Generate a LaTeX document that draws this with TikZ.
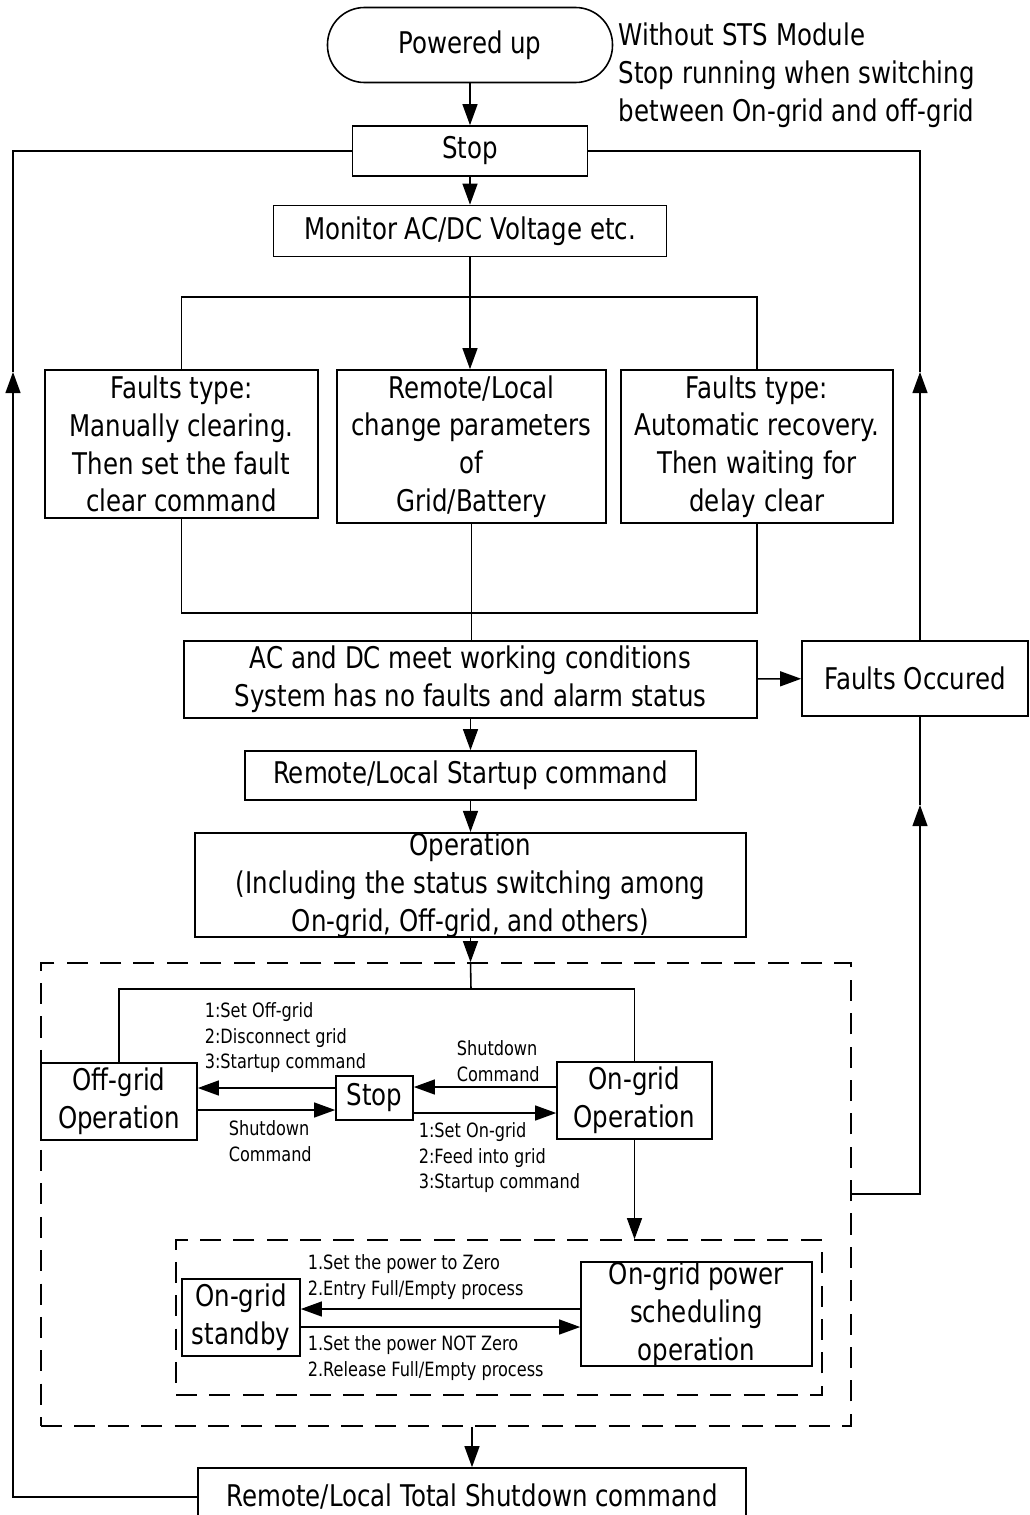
\documentclass[tikz,border=0pt]{standalone}
\usepackage{fontspec}
\setmainfont[FakeStretch=0.82]{DejaVu Sans}
\usetikzlibrary{arrows.meta}
\begin{document}
\begin{tikzpicture}[x=0.02cm,y=-0.02cm, line width=0.9pt,
  box/.style={draw, align=center, inner sep=0pt, font=\fontsize{17}{21.5}\selectfont},
  txt/.style={align=left, inner sep=0pt, anchor=west, font=\fontsize{17}{21.5}\selectfont},
  lbl/.style={align=left, inner sep=0pt, anchor=west, font=\fontsize{11.2}{14.5}\selectfont},
  arr/.style={-{Triangle[length=12pt,width=8.5pt]}},
  dbox/.style={draw, inner sep=0pt, dash pattern=on 12pt off 7pt}]
\def\u{0.02cm}
\useasboundingbox (0,0) rectangle (1029,1515);

% nodes
\node[box, rounded corners=0.74cm, minimum width=285*\u, minimum height=75*\u] (pu) at (470,45) {Powered up};
\node[txt] (note) at (618,75) {Without STS Module\\Stop running when switching\\between On-grid and off-grid};
\node[box, minimum width=235*\u, minimum height=50*\u] (stop) at (470,151) {Stop};
\node[box, minimum width=393*\u, minimum height=51*\u] (mon) at (470,231) {Monitor AC/DC Voltage etc.};
\node[box, minimum width=273*\u, minimum height=148*\u] (fl) at (181.5,444) {Faults type:\\Manually clearing.\\Then set the fault\\clear command};
\node[box, minimum width=269*\u, minimum height=153*\u] (fm) at (471.5,446.5) {Remote/Local\\change parameters\\of\\Grid/Battery};
\node[box, minimum width=272*\u, minimum height=153*\u] (fr) at (757,446.5) {Faults type:\\Automatic recovery.\\Then waiting for\\delay clear};
\node[box, minimum width=573*\u, minimum height=77*\u] (ac) at (470.5,679.5) {AC and DC meet working conditions\\System has no faults and alarm status};
\node[box, minimum width=226*\u, minimum height=75*\u] (fo) at (915,678.5) {Faults Occured};
\node[box, minimum width=451*\u, minimum height=49*\u] (st) at (470.5,775.5) {Remote/Local Startup command};
\node[box, minimum width=551*\u, minimum height=102*\u] (op) at (470.5,885) {Operation\\(Including the status switching among\\On-grid, Off-grid, and others)};
\node[dbox, minimum width=810*\u, minimum height=463*\u] (outer) at (446,1194.5) {};
\node[box, minimum width=156*\u, minimum height=77*\u] (og) at (119,1101.5) {Off-grid\\Operation};
\node[box, minimum width=77*\u, minimum height=44*\u] (sm) at (374.5,1098) {Stop};
\node[box, minimum width=155*\u, minimum height=77*\u] (on) at (634.5,1100.5) {On-grid\\Operation};
\node[dbox, minimum width=646*\u, minimum height=155*\u] (inner) at (499,1317.5) {};
\node[box, minimum width=118*\u, minimum height=77*\u] (sb) at (241,1317.5) {On-grid\\standby};
\node[box, minimum width=231*\u, minimum height=102*\u] (ps) at (696.5,1314) {On-grid power\\scheduling\\operation};
\node[box, minimum width=548*\u, minimum height=58*\u] (ts) at (472,1497) {Remote/Local Total Shutdown command};

% labels
\node[lbl] (l1) at (204,1038) {1:Set Off-grid\\2:Disconnect grid\\3:Startup command};
\node[lbl] (l2) at (228,1141) {Shutdown\\Command};
\node[lbl] (l3) at (456,1061) {Shutdown\\Command};
\node[lbl] (l4) at (418,1158) {1:Set On-grid\\2:Feed into grid\\3:Startup command};
\node[lbl] (l5) at (307,1277) {1.Set the power to Zero\\2.Entry Full/Empty process};
\node[lbl] (l6) at (307,1358) {1.Set the power NOT Zero\\2.Release Full/Empty process};

% helper coordinates
\coordinate (bt) at (470,297);
\coordinate (bb) at (470,613);
\coordinate (ib) at (471,989);
\coordinate (a1) at (0,1088);
\coordinate (a2) at (0,1110);
\coordinate (a3) at (0,1087);
\coordinate (a4) at (0,1113);
\coordinate (a5) at (0,1309);
\coordinate (a6) at (0,1327);
\coordinate (L2) at (13,372);
\coordinate (R1) at (920,372);
\coordinate (R2) at (920,1194);
\coordinate (R3) at (920,805);

% connectors
\draw[arr] (pu) -- (stop);
\draw[arr] (stop) -- (mon);
\draw[arr] (mon.south) -- (mon.south |- fm.north);
\draw (fl.north) |- (bt) -| (fr.north);
\draw (fl.south) |- (bb) -| (fr.south);
\draw (fm.south) -- (fm.south |- ac.north);
\draw[arr] (ac) -- (fo);
\draw[arr] (ac) -- (st);
\draw[arr] (st) -- (op);
\draw[arr] (op.south) -- (op.south |- outer.north);
\draw (op.south |- outer.north) -- (ib);
\draw (og.north) |- (ib) -| (on.north);
\draw[arr] (sm.west |- a1) -- (og.east |- a1);
\draw[arr] (og.east |- a2) -- (sm.west |- a2);
\draw[arr] (on.west |- a3) -- (sm.east |- a3);
\draw[arr] (sm.east |- a4) -- (on.west |- a4);
\draw[arr] (on.south) -- (on.south |- inner.north);
\draw[arr] (ps.west |- a5) -- (sb.east |- a5);
\draw[arr] (sb.east |- a6) -- (ps.west |- a6);
\draw[arr] (ts.north |- outer.south) -- (ts.north);
\draw[arr] (ts.west) -| (L2);
\draw (L2) |- (stop.west);
\draw[arr] (R1 |- fo.north) -- (R1);
\draw (R1) |- (stop.east);
\draw[arr] (outer.east |- R2) -- (R2) -- (R3);
\draw (R3) -- (R3 |- fo.south);
\end{tikzpicture}
\end{document}
